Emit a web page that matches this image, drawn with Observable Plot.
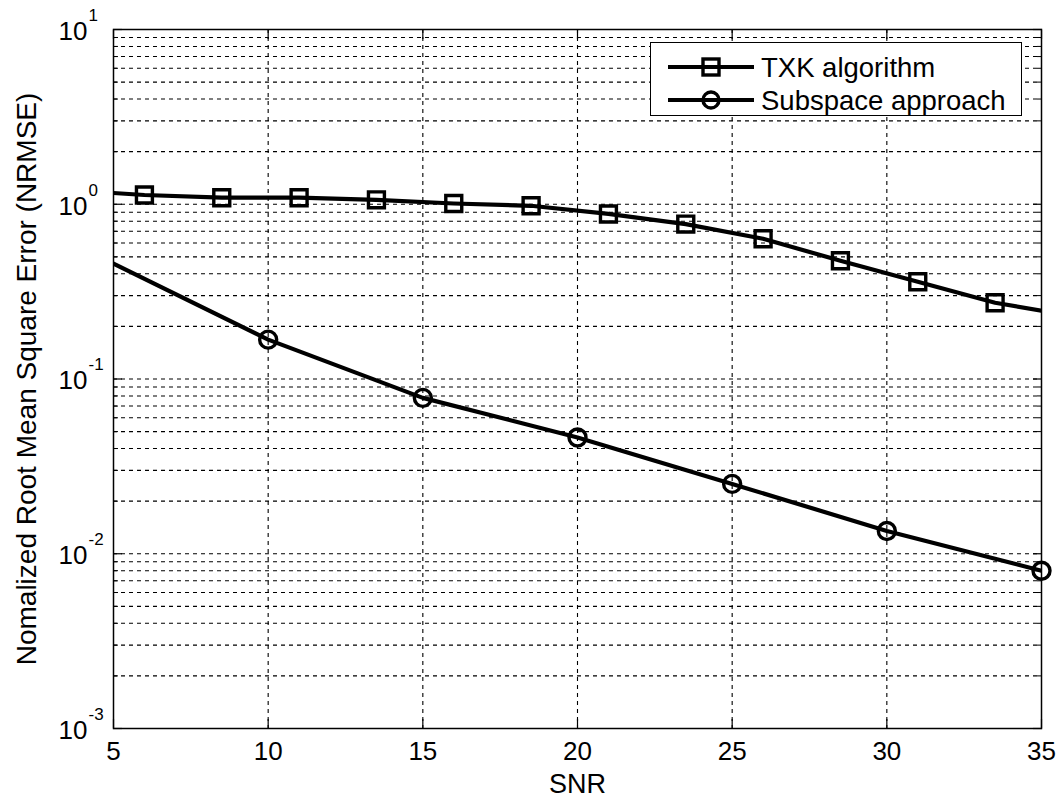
<!DOCTYPE html>
<html>
<head>
<meta charset="utf-8">
<script src="https://cdn.jsdelivr.net/npm/d3@7"></script>
<script src="https://cdn.jsdelivr.net/npm/@observablehq/plot@0.6"></script>
<style>
  html, body { margin: 0; padding: 0; background: #fff; }
  #wrap { position: relative; width: 1059px; height: 800px; font-family: "Liberation Sans", Arial, sans-serif; }
  #legend { position: absolute; background: #fff; border: 1.5px solid #000; box-sizing: border-box; }
  #legend svg { display: block; overflow: visible; }
</style>
</head>
<body>
<div id="wrap"></div>
<script>
// ---- data ----
const seriesNames = ["TXK algorithm", "Subspace approach"];
const snrTXK   = [5, 6, 8.5, 11, 13.5, 16, 18.5, 21, 23.5, 26, 28.5, 31, 33.5, 35];
const nrmseTXK = [1.16, 1.13, 1.09, 1.09, 1.06, 1.01, 0.98, 0.88, 0.77, 0.635, 0.475, 0.36, 0.273, 0.246];
const txkMarkerSNR = [6, 8.5, 11, 13.5, 16, 18.5, 21, 23.5, 26, 28.5, 31, 33.5];
const snrSub   = [5, 10, 15, 20, 25, 30, 35];
const nrmseSub = [0.457, 0.168, 0.078, 0.0463, 0.0251, 0.0135, 0.0080];
const subMarkerSNR = [10, 15, 20, 25, 30, 35];
const xTicks = [5, 10, 15, 20, 25, 30, 35];
const xGrid = [10, 15, 20, 25, 30];
const yDecades = [10, 1, 0.1, 0.01, 0.001];
const yExponents = ["1", "0", "-1", "-2", "-3"];
const yMinor = [];
for (const d of [0.001, 0.01, 0.1, 1]) for (let k = 2; k <= 9; k++) yMinor.push(+(k * d).toPrecision(3));

const txk = snrTXK.map((s, i) => ({snr: s, v: nrmseTXK[i]}));
const sub = snrSub.map((s, i) => ({snr: s, v: nrmseSub[i]}));
const txkMarks = txk.filter(d => txkMarkerSNR.includes(d.snr));
const subMarks = sub.filter(d => subMarkerSNR.includes(d.snr));
const decades = yDecades.map((v, i) => ({v, e: yExponents[i]}));

const FONT = "Liberation Sans, Arial, sans-serif";
const W = 1059, H = 800;
const mL = 113, mR = 18, mT = 29, mB = 72;

const grid = {stroke: "#000", strokeWidth: 1.1, strokeDasharray: "4,4", strokeOpacity: 1};

const chart = Plot.plot({
  width: W, height: H,
  marginLeft: mL, marginRight: mR, marginTop: mT, marginBottom: mB,
  style: {fontFamily: FONT, background: "#fff", overflow: "visible"},
  x: {domain: [5, 35], axis: null},
  y: {type: "log", domain: [0.001, 10], axis: null},
  marks: [
    Plot.ruleY([...yMinor, 0.01, 0.1, 1], {y: d => d, ...grid}),
    Plot.ruleX(xGrid, {x: d => d, ...grid}),
    // inward ticks
    Plot.axisY(yDecades, {anchor: "left", tickSize: -9, tickFormat: () => "", label: null, strokeWidth: 1.2}),
    Plot.axisY(yDecades, {anchor: "right", tickSize: -9, tickFormat: () => "", label: null, strokeWidth: 1.2}),
    Plot.axisY(yMinor, {anchor: "left", tickSize: -5, tickFormat: () => "", label: null}),
    Plot.axisY(yMinor, {anchor: "right", tickSize: -5, tickFormat: () => "", label: null}),
    Plot.axisX(xTicks, {anchor: "bottom", tickSize: -9, tickFormat: () => "", label: null, strokeWidth: 1.2}),
    Plot.axisX(xTicks, {anchor: "top", tickSize: -9, tickFormat: () => "", label: null, strokeWidth: 1.2}),
    Plot.frame({stroke: "#000", strokeWidth: 1.5}),
    // x tick labels
    Plot.text(xTicks, {x: d => d, frameAnchor: "bottom", dy: 23, text: d => String(d), fontSize: 26, fill: "#000", lineAnchor: "middle", textAnchor: "middle"}),
    // y tick labels: base "10" + exponent
    Plot.text(decades, {y: "v", frameAnchor: "left", dx: -26, dy: 2, text: () => "10", fontSize: 26, fill: "#000", textAnchor: "end", lineAnchor: "middle"}),
    Plot.text(decades, {y: "v", frameAnchor: "left", dx: -25, dy: -14, text: "e", fontSize: 17, fill: "#000", textAnchor: "start", lineAnchor: "middle"}),
    // axis titles
    Plot.text(["SNR"], {frameAnchor: "bottom", dy: 56, text: d => d, fontSize: 27, fill: "#000", lineAnchor: "middle", textAnchor: "middle"}),
    Plot.text(["Nomalized Root Mean Square Error (NRMSE)"], {frameAnchor: "left", dx: -86, rotate: -90, text: d => d, fontSize: 28, fill: "#000", lineAnchor: "middle", textAnchor: "middle"}),
    // series
    Plot.line(txk, {x: "snr", y: "v", stroke: "#000", strokeWidth: 4.2, clip: true}),
    Plot.dot(txkMarks, {x: "snr", y: "v", symbol: "square", r: 9, stroke: "#000", strokeWidth: 3.4, fill: "none"}),
    Plot.line(sub, {x: "snr", y: "v", stroke: "#000", strokeWidth: 4.2, clip: true}),
    Plot.dot(subMarks, {x: "snr", y: "v", symbol: "circle", r: 8.5, stroke: "#000", strokeWidth: 3.4, fill: "none"})
  ]
});

const wrap = document.getElementById("wrap");
wrap.appendChild(chart);

// legend (overlay inside the axes, top-right)
const legend = document.createElement("div");
legend.id = "legend";
Object.assign(legend.style, {left: "650px", top: "42px", width: "372px", height: "74px"});
wrap.appendChild(legend);
const lsvg = d3.select(legend).append("svg").attr("width", 369).attr("height", 71);
const symbols = ["square", "circle"];
seriesNames.forEach((name, i) => {
  const cy = 24 + i * 33;
  const g = lsvg.append("g");
  g.append("line").attr("x1", 17).attr("x2", 103).attr("y1", cy).attr("y2", cy).attr("stroke", "#000").attr("stroke-width", 4.2);
  if (symbols[i] === "square") {
    g.append("rect").attr("x", 60 - 8).attr("y", cy - 8).attr("width", 16).attr("height", 16).attr("fill", "none").attr("stroke", "#000").attr("stroke-width", 3.4);
  } else {
    g.append("circle").attr("cx", 60).attr("cy", cy).attr("r", 8).attr("fill", "none").attr("stroke", "#000").attr("stroke-width", 3.4);
  }
  g.append("text").attr("x", 110).attr("y", cy).attr("dy", "0.35em").attr("font-size", 27.5).attr("font-family", FONT).attr("fill", "#000").text(name);
});
</script>
</body>
</html>
